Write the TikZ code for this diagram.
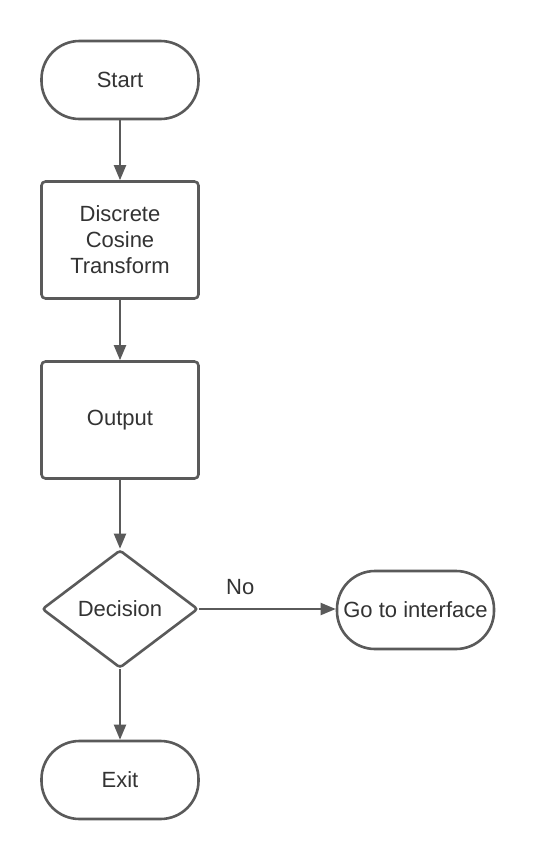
\documentclass[tikz,border=0pt]{standalone}
\usepackage{fontspec}
\setmainfont{Liberation Sans}
\usetikzlibrary{arrows.meta,shapes.geometric}
\definecolor{linegray}{HTML}{5A5A5A}
\definecolor{textgray}{HTML}{333333}
\tikzset{
  base/.style={draw=linegray, line width=2.6pt, text=textgray, inner sep=0pt,
    font=\fontsize{22}{26}\selectfont, align=center},
  terminal/.style={base, rectangle, rounded corners=38pt, minimum width=157pt, minimum height=78pt},
  process/.style={base, rectangle, rounded corners=4pt, minimum width=157pt, minimum height=117pt},
  decision/.style={base, diamond, rounded corners=3pt, minimum width=156pt, minimum height=118pt},
  flow/.style={draw=linegray, line width=2pt, -{Triangle[length=15pt,width=12pt]}},
  lbl/.style={text=textgray, font=\fontsize{22}{26}\selectfont, inner sep=0pt}
}
\begin{document}
\begin{tikzpicture}[x=1pt,y=-1pt]
  \useasboundingbox[fill=white] (0,0) rectangle (535,860);
  \node[terminal] (start) at (120,80) {Start};
  \node[process] (dct) at (120,240) {Discrete\\Cosine\\Transform};
  \node[process] (out) at (120,420) {Output};
  \node[decision] (dec) at (120,609) {Decision};
  \node[terminal] (go) at (415.5,610) {Go to interface};
  \node[terminal] (exit) at (120,780) {Exit};
  \draw[flow] (start) -- (dct);
  \draw[flow] (dct) -- (out);
  \draw[flow] (out) -- (dec);
  \draw[flow] (dec.east) -- (go.west |- dec.east) node[lbl, pos=0.3, yshift=22pt] {No};
  \draw[flow] (dec) -- (exit);
\end{tikzpicture}
\end{document}
